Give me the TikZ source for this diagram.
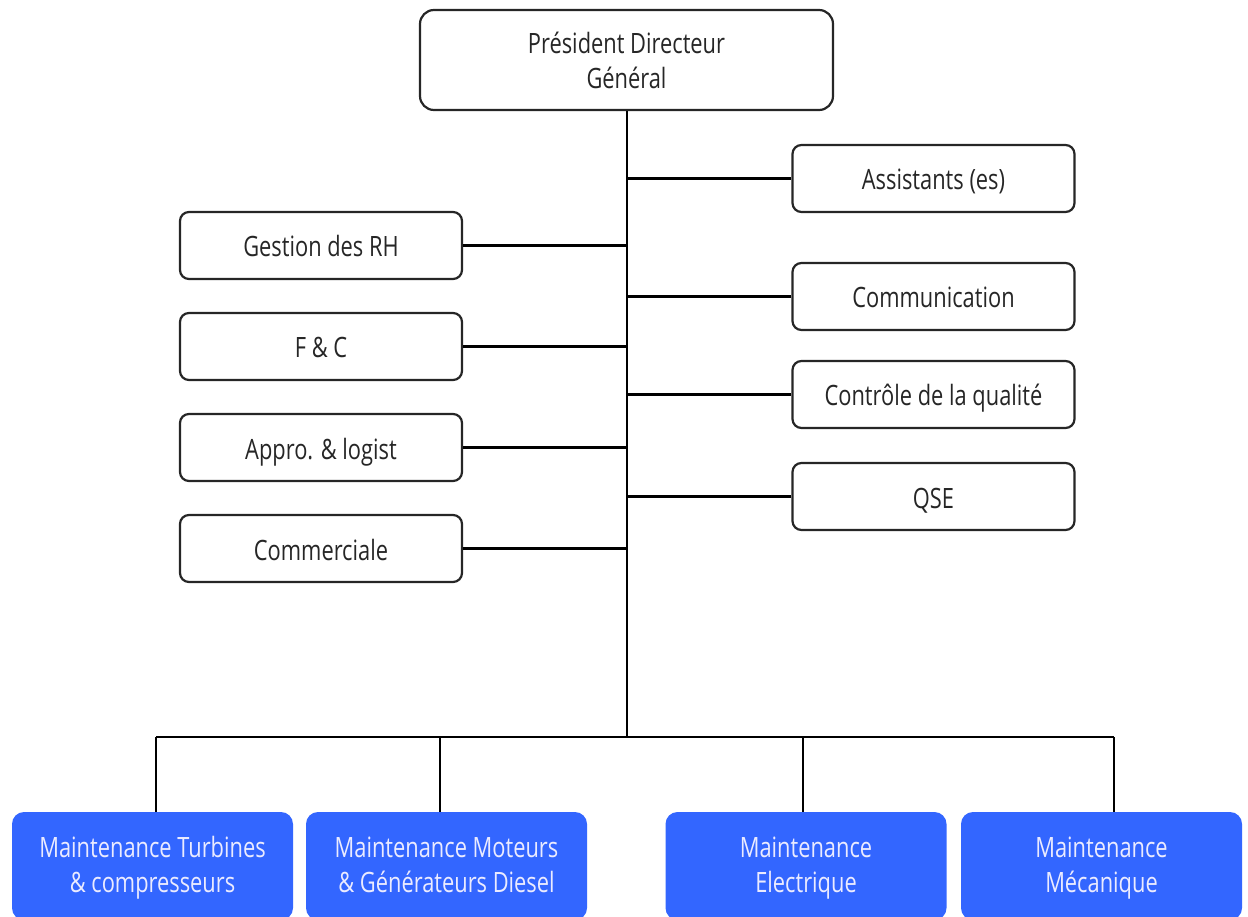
\documentclass[tikz,border=0pt]{standalone}
\usepackage{fontspec}
\setmainfont{Open Sans}[FakeStretch=0.78]
% first-line struts that sit the label slightly below the box centre
\newcommand{\wst}{\rule[-10.5pt]{0pt}{44pt}}
\newcommand{\bst}{\rule[-10.5pt]{0pt}{39pt}}
\begin{document}
\begin{tikzpicture}[x=1pt,y=-1pt,
  orgbox/.style={draw=black!85, line width=2.2pt, rounded corners=9pt, fill=white,
    text=black!85, align=center, inner sep=0pt, font=\fontsize{28}{35}\selectfont},
  sidebox/.style={orgbox, minimum width=282pt, minimum height=67pt},
  unitbox/.style={draw=none, rounded corners=12pt, fill=unitblue, text=white!92!blue,
    align=center, inner sep=0pt, minimum width=281pt, minimum height=108pt,
    font=\fontsize{28}{35}\selectfont},
  link/.style={line width=2.6pt, black}]
\definecolor{unitblue}{RGB}{51,102,255}
\useasboundingbox (0,0) rectangle (1248,917);
\clip (0,0) rectangle (1248,917);

% chief executive
\node[orgbox, rounded corners=14pt, minimum width=413pt, minimum height=100pt] (pdg) at (626.5,60)
  {\wst Président Directeur\\\strut Général};

% staff functions, right side
\node[sidebox] (ass) at (933.5,178.5) {\wst Assistants (es)};
\node[sidebox] (com) at (933.5,296.5) {\wst Communication};
\node[sidebox] (cq)  at (933.5,394.5) {\wst Contrôle de la qualité};
\node[sidebox] (qse) at (933.5,496.5) {\wst QSE};

% support functions, left side
\node[sidebox] (rh)  at (321,245.5) {\wst Gestion des RH};
\node[sidebox] (fc)  at (321,346.5) {\wst F \& C};
\node[sidebox] (app) at (321,447.5) {\wst Appro. \& logist};
\node[sidebox] (cml) at (321,548.5) {\wst Commerciale};

% maintenance units
\node[unitbox] (mtc) at (152.5,866) {\bst Maintenance Turbines\\\strut\& compresseurs};
\node[unitbox] (mmg) at (446.5,866) {\bst Maintenance Moteurs\\\strut\& Générateurs Diesel};
\node[unitbox] (mel) at (806,866) {\bst Maintenance\\\strut Electrique};
\node[unitbox] (mme) at (1101.5,866) {\bst Maintenance\\\strut Mécanique};

% trunk and bus
\coordinate (trunk) at (627,737);
\coordinate (b1) at (156,737);
\coordinate (b2) at (440,737);
\coordinate (b3) at (803,737);
\coordinate (b4) at (1114,737);

\draw[link] (pdg.south -| trunk) -- (trunk);
\draw[link] (b1) -- (b4);

\draw[link] (ass.west) -- (ass.west -| trunk);
\draw[link] (com.west) -- (com.west -| trunk);
\draw[link] (cq.west)  -- (cq.west -| trunk);
\draw[link] (qse.west) -- (qse.west -| trunk);

\draw[link] (rh.east)  -- (rh.east -| trunk);
\draw[link] (fc.east)  -- (fc.east -| trunk);
\draw[link] (app.east) -- (app.east -| trunk);
\draw[link] (cml.east) -- (cml.east -| trunk);

\draw[link] (b1) -- (b1 |- mtc.north);
\draw[link] (b2) -- (b2 |- mmg.north);
\draw[link] (b3) -- (b3 |- mel.north);
\draw[link] (b4) -- (b4 |- mme.north);
\end{tikzpicture}
\end{document}
